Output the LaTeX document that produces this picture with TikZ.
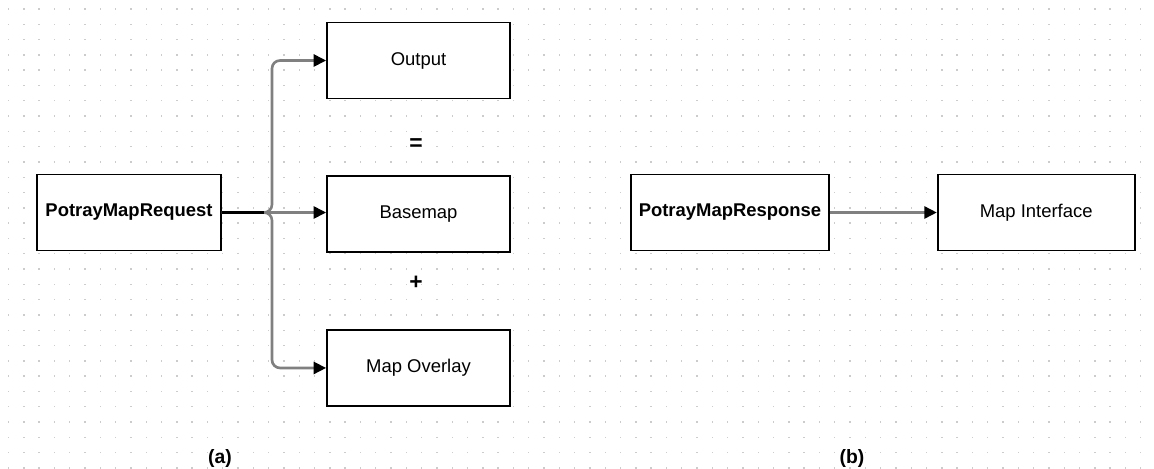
\documentclass[tikz,border=0pt]{standalone}
\usepackage{fontspec}
\setmainfont{Liberation Sans}
\usetikzlibrary{positioning,arrows.meta}

\begin{document}
\begin{tikzpicture}[x=0.02cm, y=-0.02cm,
            block/.style={rectangle, draw, line width=1pt, fill=white, minimum height=1.52cm, inner sep=0pt, align=center, font=\fontsize{10.5}{12}\selectfont},
            wide/.style={block, minimum width=3.68cm},
            narrow/.style={block, minimum width=3.66cm},
            paths/.style={draw=black!50, line width=1.5pt, rounded corners=0.16cm, -{Triangle[length=0.25cm, width=0.24cm, color=black]}},
            trunk/.style={draw=black, line width=1.6pt},
            sign/.style={font=\bfseries\fontsize{13}{14}\selectfont},
            caption/.style={font=\bfseries\fontsize{11}{13}\selectfont}
        ]
            \useasboundingbox (0,0) rectangle (1154,468);

            % Dotted background grid
            \foreach \i in {0,...,75} {
                \foreach \j in {0,...,30} {
                    \fill[black!20] (7.8+15.3*\i, 8.2+15.3*\j) rectangle ++(1.4,1.4);
                }
            }

            % Nodes (a)
            \node[wide] (request) at (129,212.5) {\textbf{PotrayMapRequest}};
            \node[narrow] (output) at (418.5,60.5) {Output};
            \node[narrow, below=1.52cm of output] (basemap) {Basemap};
            \node[narrow, below=1.52cm of basemap] (overlay) {Map Overlay};
            \node[sign] (equals) at (416,145) {=};
            \node[sign] (plus) at (416,283) {+};

            % Nodes (b)
            \node[block, minimum width=3.96cm] (response) at (730,212.5) {\textbf{PotrayMapResponse}};
            \node[block, minimum width=3.94cm, right=2.14cm of response] (iface) {Map Interface};

            % Paths: request split
            \coordinate (fork) at (272,212.5);
            \draw[paths] (request.east) -- (fork) |- (output.west);
            \draw[paths] (request.east) -- (fork) |- (overlay.west);
            \draw[paths] (request.east) -- (request.east -| basemap.west);
            \draw[trunk] (request.east) -- (264,212.5);

            % Paths: response
            \draw[paths] (response) -- (iface);

            % Captions
            \node[caption] (capa) at (220,458) {(a)};
            \node[caption] (capb) at (852,458) {(b)};
        \end{tikzpicture}
\end{document}
